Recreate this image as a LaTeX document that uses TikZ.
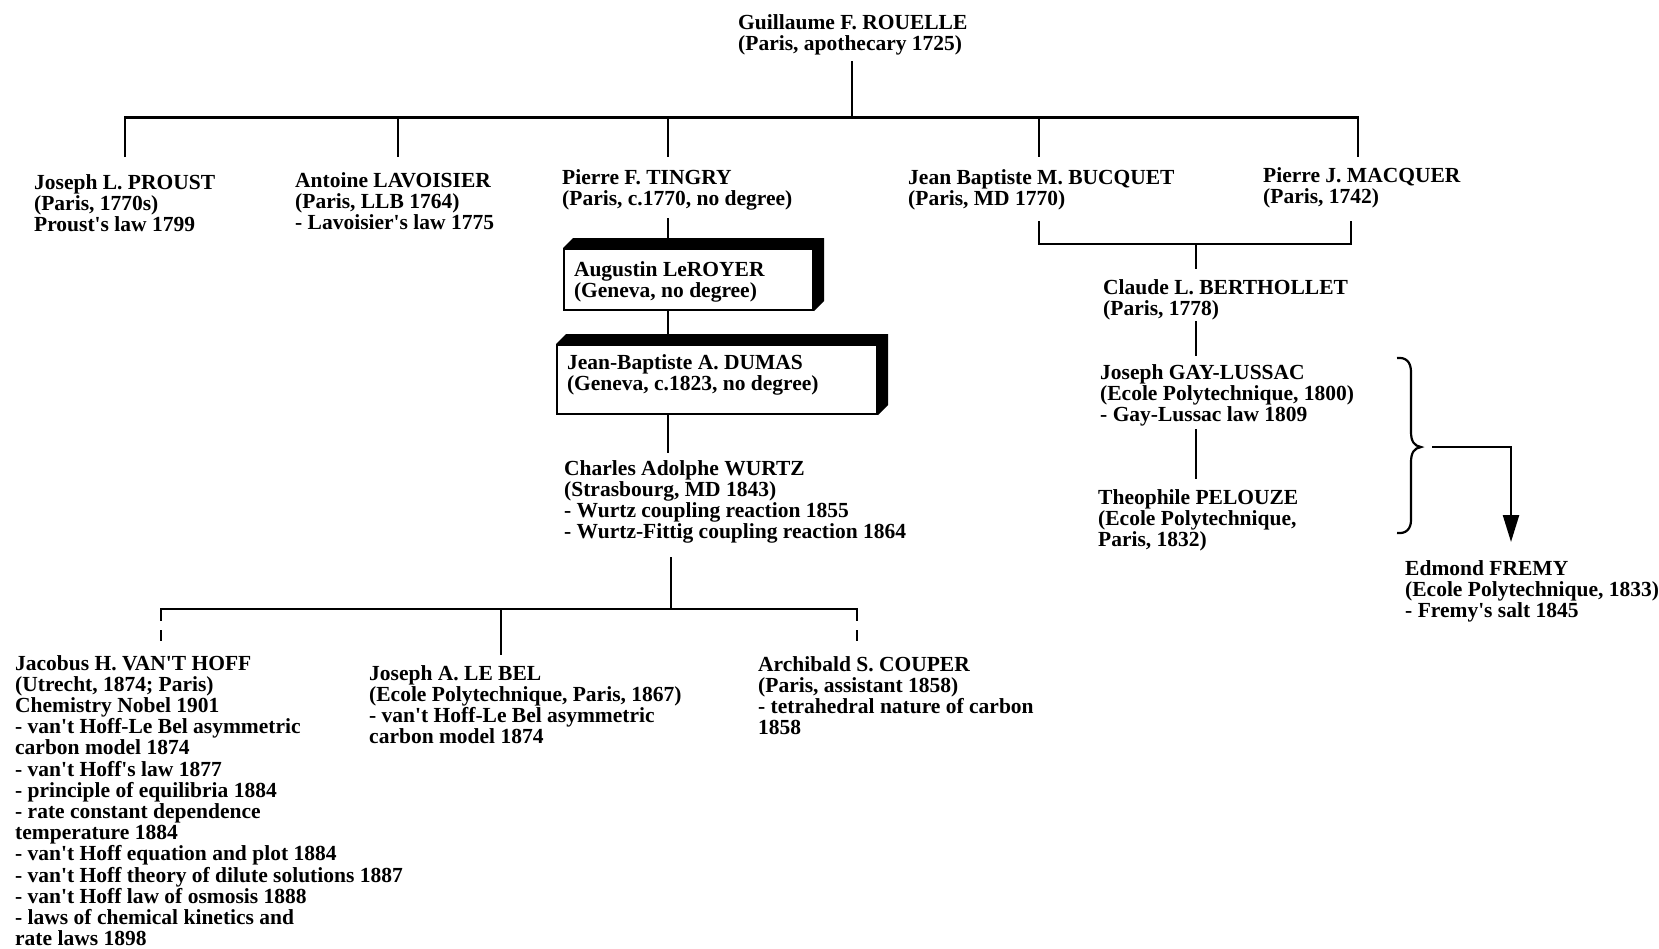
\documentclass[tikz,border=0pt]{standalone}
\usepackage{fontspec}
\setmainfont{Liberation Serif}[Ligatures=TeXOff]
\usetikzlibrary{arrows.meta}
\begin{document}
\begin{tikzpicture}[x=1pt,y=-1pt,line width=2.4pt,
  font=\fontsize{21.5}{21.2}\selectfont\bfseries,
  person/.style={anchor=base west,text width=480pt,align=flush left,inner sep=0pt},
  card/.style={draw,fill=white,line width=2pt,anchor=north west,align=flush left,inner xsep=10pt,inner ysep=0pt},
  dropdash/.style={dash pattern=on 12pt off 9pt}]

\useasboundingbox (0,0) rectangle (1659,948);

\node[person] (rouelle) at (737,29) {Guillaume F. ROUELLE\\(Paris, apothecary 1725)};

\node[person] (proust) at (33,189) {Joseph L. PROUST\\(Paris, 1770s)\\Proust's law 1799};
\node[person] (lavoisier) at (294,187) {Antoine LAVOISIER\\(Paris, LLB 1764)\\- Lavoisier's law 1775};
\node[person] (tingry) at (561,184) {Pierre F. TINGRY\\(Paris, c.1770, no degree)};
\node[person] (bucquet) at (907,184) {Jean Baptiste M. BUCQUET\\(Paris, MD 1770)};
\node[person] (macquer) at (1262,182) {Pierre J. MACQUER\\(Paris, 1742)};

\node[card,text width=229pt,text height=27pt,text depth=34pt] (leroyer) at (563,248) {Augustin LeROYER\\(Geneva, no degree)};
\fill (leroyer.north west) -- ++(10,-10) -- ([shift={(10,-10)}]leroyer.north east) -- ([shift={(10,-10)}]leroyer.south east) -- (leroyer.south east) -- (leroyer.north east) -- cycle;
\node[card,text width=300pt,text height=24pt,text depth=45pt] (dumas) at (556,344) {Jean-Baptiste A. DUMAS\\(Geneva, c.1823, no degree)};
\fill (dumas.north west) -- ++(10,-10) -- ([shift={(10,-10)}]dumas.north east) -- ([shift={(10,-10)}]dumas.south east) -- (dumas.south east) -- (dumas.north east) -- cycle;

\node[person] (wurtz) at (563,475) {Charles Adolphe WURTZ\\(Strasbourg, MD 1843)\\- Wurtz coupling reaction 1855\\- Wurtz-Fittig coupling reaction 1864};

\node[person] (berthollet) at (1102,294) {Claude L. BERTHOLLET\\(Paris, 1778)};
\node[person] (gaylussac) at (1099,379) {Joseph GAY-LUSSAC\\(Ecole Polytechnique, 1800)\\- Gay-Lussac law 1809};
\node[person] (pelouze) at (1097,504) {Theophile PELOUZE\\(Ecole Polytechnique,\\Paris, 1832)};
\node[person] (fremy) at (1404,575) {Edmond FREMY\\(Ecole Polytechnique, 1833)\\- Fremy's salt 1845};

\node[person] (vanthoff) at (14,670) {Jacobus H. VAN'T HOFF\\(Utrecht, 1874; Paris)\\Chemistry Nobel 1901\\- van't Hoff-Le Bel asymmetric\\carbon model 1874\\- van't Hoff's law 1877\\- principle of equilibria 1884\\- rate constant dependence\\temperature 1884\\- van't Hoff equation and plot 1884\\- van't Hoff theory of dilute solutions 1887\\- van't Hoff law of osmosis 1888\\- laws of chemical kinetics and\\rate laws 1898};
\node[person] (lebel) at (368,680) {Joseph A. LE BEL\\(Ecole Polytechnique, Paris, 1867)\\- van't Hoff-Le Bel asymmetric\\carbon model 1874};
\node[person] (couper) at (757,671) {Archibald S. COUPER\\(Paris, assistant 1858)\\- tetrahedral nature of carbon\\1858};

\coordinate (bar1) at (852,117.5);
\coordinate (rouelle-out) at (852,61);
\coordinate (proust-in) at (125,157);
\coordinate (lavoisier-in) at (398,157);
\coordinate (tingry-in) at (668,157);
\coordinate (bucquet-in) at (1039,157);
\coordinate (macquer-in) at (1358,157);
\coordinate (tingry-out) at (668,218);
\coordinate (wurtz-in) at (668,453);
\coordinate (bar2) at (671,609);
\coordinate (wurtz-out) at (671,557);
\coordinate (vanthoff-in) at (161,641);
\coordinate (lebel-in) at (501,655);
\coordinate (couper-in) at (857,641);
\coordinate (bar3) at (1196,244);
\coordinate (bucquet-out) at (1039,221);
\coordinate (macquer-out) at (1351,221);
\coordinate (berthollet-in) at (1196,269);
\coordinate (berthollet-out) at (1196,321);
\coordinate (gaylussac-in) at (1196,356);
\coordinate (gaylussac-out) at (1196,429);
\coordinate (pelouze-in) at (1196,479);
\coordinate (brace) at (1421,447);
\coordinate (fremy-in) at (1511,542);

\draw (rouelle-out) -- (bar1);
\draw (proust-in) |- (bar1) -| (macquer-in);
\draw (lavoisier-in |- bar1) -- (lavoisier-in);
\draw (tingry-in |- bar1) -- (tingry-in);
\draw (bucquet-in |- bar1) -- (bucquet-in);

\draw (tingry-out) -- (tingry-out |- leroyer.north);
\draw (leroyer.south -| tingry-out) -- (dumas.north -| tingry-out);
\draw (dumas.south -| tingry-out) -- (wurtz-in);

\draw (wurtz-out) -- (bar2);
\draw[line cap=rect] (vanthoff-in |- bar2) -- (couper-in |- bar2);
\draw[dropdash] (vanthoff-in |- bar2) -- (vanthoff-in);
\draw (lebel-in |- bar2) -- (lebel-in);
\draw[dropdash] (couper-in |- bar2) -- (couper-in);

\draw (bucquet-out) |- (bar3) -| (macquer-out);
\draw (bar3) -- (berthollet-in);
\draw (berthollet-out) -- (gaylussac-in);
\draw (gaylussac-out) -- (pelouze-in);

\draw[line width=2.2pt] (1397,358) .. controls (1406,357) and (1411,362) .. (1411,372) -- (1411,432) .. controls (1411,441) and (1414,446) .. (brace) .. controls (1414,448) and (1411,453) .. (1411,462) -- (1411,520) .. controls (1411,529) and (1406,534) .. (1397,533);
\draw[-{Triangle[length=27pt,width=16pt]}] ([xshift=11pt]brace) -| (fremy-in);

\end{tikzpicture}
\end{document}
